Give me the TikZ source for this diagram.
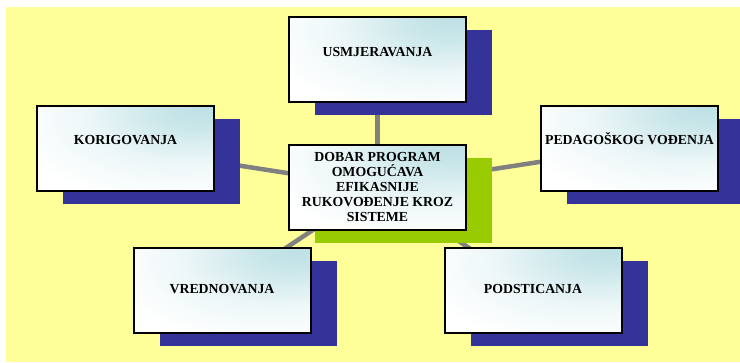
\documentclass[tikz,border=0pt]{standalone}
\usepackage{fontspec}
\setmainfont{Liberation Serif}
\usetikzlibrary{shadows}
\definecolor{paperyellow}{RGB}{255,255,153}
\definecolor{shadowblue}{RGB}{51,51,153}
\definecolor{hubgreen}{RGB}{153,204,0}
\definecolor{linkgray}{RGB}{128,128,128}
\definecolor{glowcyan}{RGB}{188,224,228}
\pgfdeclareradialshading{boxglow}{\pgfpoint{22bp}{25bp}}{%
  color(0bp)=(glowcyan); color(10bp)=(glowcyan!80!white);
  color(28bp)=(glowcyan!25!white); color(45bp)=(white); color(100bp)=(white)}
\pgfdeclarelayer{paper}
\pgfdeclarelayer{links}
\pgfsetlayers{paper,links,main}
\tikzset{
  card/.style={draw=black, line width=2pt, shade, shading=boxglow,
    minimum width=177pt, minimum height=85pt, inner sep=0pt, align=center,
    font=\fontsize{13.8}{15}\selectfont\bfseries},
  outer card/.style={card, text height=9pt, drop shadow={shadow xshift=26pt,
    shadow yshift=-13pt, fill=shadowblue, opacity=1}},
  hub card/.style={card, drop shadow={shadow xshift=26pt, shadow yshift=-13pt,
    fill=hubgreen, opacity=1}},
  link/.style={draw=linkgray, line width=4.5pt}
}
\begin{document}
\begin{tikzpicture}[x=1pt,y=-1pt]
    \useasboundingbox (0,0) rectangle (740,362);
    \begin{pgfonlayer}{paper}
        \fill[paperyellow] (6,7) rectangle (740,362);
    \end{pgfonlayer}

    \node[hub card] (hub) at (377.5,187)
        {DOBAR PROGRAM\\OMOGUĆAVA\\EFIKASNIJE\\RUKOVOĐENJE KROZ\\SISTEME};

    \foreach \nm/\x/\y/\dd/\txt in {usm/377.5/59.5/16/USMJERAVANJA,
        ped/629.5/148/16/PEDAGOŠKOG VOĐENJA, kor/125.5/148/16/KORIGOVANJA,
        vred/222/290.5/3/VREDNOVANJA, pod/533/290.5/3/PODSTICANJA}
        \node[outer card, text depth=\dd pt] (\nm) at (\x,\y) {\txt};

    \begin{pgfonlayer}{links}
        \foreach \nm in {usm,ped,kor,vred,pod}
            \draw[link] (hub.center) -- (\nm.center);
    \end{pgfonlayer}
\end{tikzpicture}
\end{document}
